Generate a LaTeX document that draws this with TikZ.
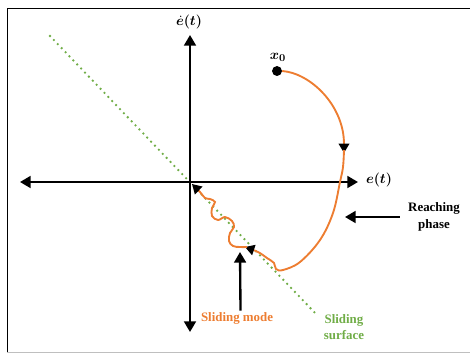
\documentclass[tikz,border=0pt]{standalone}
\usepackage{fontspec}
\setmainfont{Liberation Serif}
\usepackage{amsmath,bm}
\usetikzlibrary{arrows.meta}
\definecolor{traj}{RGB}{237,125,49}
\definecolor{surf}{RGB}{112,173,71}
\tikzset{
  axisline/.style={line width=2pt,{Triangle[length=9pt,width=10pt]}-{Triangle[length=9pt,width=10pt]}},
  pointer/.style={line width=2pt,-{Triangle[length=9pt,width=10pt]}},
  trajline/.style={traj,line width=1.6pt,-{Triangle[length=8pt,width=9pt,color=black]}},
  lbl/.style={font={\fontsize{11}{14}\selectfont\bfseries},align=center,inner sep=1pt},
  mlbl/.style={font={\fontsize{13}{15}\selectfont},inner sep=1pt}
}
\begin{document}
\begin{tikzpicture}[x=0.03cm,y=-0.03cm]
\useasboundingbox (0,0) rectangle (470,354);
\draw[line width=0.8pt] (470,8)--(7,8)--(7,352);
\draw[line width=0.8pt,black!25] (7,352)--(470,352);
\coordinate (O) at (190,182);
\coordinate (L) at (20,182);\coordinate (R) at (358,182);
\coordinate (T) at (190,35);\coordinate (B) at (190,332);
\coordinate (S1) at (50,36);\coordinate (S2) at (317,315);
\coordinate (P) at (344,153);\coordinate (Q) at (245,247);
% sliding surface and axes
\draw[surf,line width=2.2pt,line cap=round,dash pattern=on 0pt off 4.8pt] (S1)--(S2);
\draw[axisline] (L)--(R);
\draw[axisline] (T)--(B);
\node[mlbl] (eaxis) at (379,180) {$\bm{e(t)}$};
\node[mlbl] (deaxis) at (189,22) {$\bm{\dot{e}(t)}$};
% trajectory
\node[circle,fill,inner sep=3pt] (x0) at (277,71) {};
\node[mlbl] (x0lbl) at (278,57) {$\bm{x_0}$};
\draw[trajline] (x0.east) .. controls (310,73) and (344,105) .. (P);
\draw[trajline] plot[smooth,tension=0.6] coordinates {(344,150) (343,167) (340,182) (333,213) (320,240) (300,262) (283,270) (276,269) (274,263) (267,258) (258,252) (Q)};
\draw[trajline] plot[smooth,tension=0.6] coordinates {(247,247) (240,247) (233,246) (229,241) (230,233) (234,227) (232,221) (225,217) (218,220) (212,216) (212,208) (215,202) (210,199) (205,198) (200,192) (192,184)};
% labels
\node[lbl] (reach) at (434,217) {Reaching\\phase};
\coordinate (RP) at (345,217);
\draw[pointer] ([xshift=-6pt]reach.west)--(RP);
\node[lbl,traj] (smode) at (237,318) {Sliding mode};
\coordinate (SM) at (240,252);
\draw[pointer] ([xshift=3]smode.north)--(SM);
\node[lbl,surf] (ssurf) at (344,327) {Sliding\\surface};
\end{tikzpicture}
\end{document}
